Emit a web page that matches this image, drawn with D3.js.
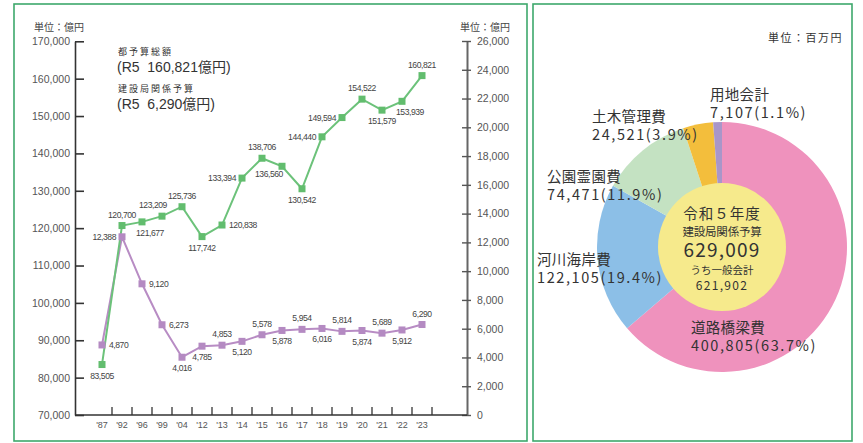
<!DOCTYPE html>
<html>
<head>
<meta charset="UTF-8">
<title>建設局関係予算</title>
<style>
    body { margin: 0; padding: 0; background: #fff; }
    svg { display: block; font-family: 'Liberation Sans', 'Noto Sans CJK JP', sans-serif; }
    .jp { font-family: 'Noto Sans CJK JP', sans-serif; }
    .pre { white-space: pre; }
</style>
</head>
<body>
<svg></svg>
<script src="https://d3js.org/d3.v7.min.js"></script>
<script>

// dimensions
let w = 863, h = 443;

// line chart data
let years = ["'87","'92","'96","'99","'04","'12","'13","'14","'15","'16","'17","'18","'19","'20","'21","'22","'23"];
let totalBudget = [83505,120700,121677,123209,125736,117742,120838,133394,138706,136560,130542,144440,149594,154522,151579,153939,160821];
let constBudget = [4870,12388,9120,6273,4016,4785,4853,5120,5578,5878,5954,6016,5814,5874,5689,5912,6290];
// where each value label sits relative to its point
let totalLabelAt = ["b","a","br","al","a","b","r","l","a","bl","b","l","l","a","b","br","a"];
let constLabelAt = ["r","l","r","r","b","b","a","b","a","b","a","b","a","b","a","b","a"];
let leftTicks = [70000,80000,90000,100000,110000,120000,130000,140000,150000,160000,170000];
let rightTicks = [0,2000,4000,6000,8000,10000,12000,14000,16000,18000,20000,22000,24000,26000];

// donut data
let sectors = ["道路橋梁費","河川海岸費","公園霊園費","土木管理費","用地会計"];
let sectorValues = [400805,122105,74471,24521,7107];
let sectorShares = ["63.7%","19.4%","11.9%","3.9%","1.1%"];
let sectorColors = ["#ef92bd","#8cbfe7","#c4e2c2","#f3be3c","#a996c9"];

let svg = d3.select("svg")
    .attr("width", w)
    .attr("height", h)
    .attr("viewBox", `0 0 ${w} ${h}`);

// panel frames
svg.append("rect").attr("x",14).attr("y",4).attr("width",513).attr("height",437)
    .attr("fill","none").attr("stroke","#3ea86c").attr("stroke-width",1.6);
svg.append("rect").attr("x",533).attr("y",4).attr("width",319).attr("height",437)
    .attr("fill","none").attr("stroke","#3ea86c").attr("stroke-width",1.6);

// ---------- line chart ----------
let x = d3.scaleBand().domain(years).range([92,432]);
let yL = d3.scaleLinear().domain([70000,170000]).range([415,41.3]);
let yR = d3.scaleLinear().domain([0,26000]).range([415,41]);

let leftAxis = svg.append("g")
    .attr("transform","translate(75,0)")
    .call(d3.axisLeft(yL).tickValues(leftTicks).tickSizeInner(-9).tickSizeOuter(0).tickPadding(5)
        .tickFormat(d3.format(",")));
leftAxis.select(".domain").attr("stroke","#333").attr("stroke-width",1.6);
leftAxis.selectAll(".tick line").attr("stroke","#333").attr("stroke-width",1.6);
leftAxis.selectAll("text").attr("fill","#555").attr("font-size",10.5);

let rightAxis = svg.append("g")
    .attr("transform","translate(467,0)")
    .call(d3.axisRight(yR).tickValues(rightTicks).tickSizeInner(4).tickSizeOuter(0).tickPadding(6)
        .tickFormat(d3.format(",")));
rightAxis.select(".domain").attr("stroke","#666").attr("stroke-width",2);
rightAxis.selectAll(".tick line").attr("x1",-5).attr("stroke","#555").attr("stroke-width",1.4);
rightAxis.selectAll("text").attr("fill","#555").attr("font-size",10.5);

// bottom axis
let bottom = svg.append("g");
bottom.append("line").attr("x1",75).attr("x2",467).attr("y1",415).attr("y2",415)
    .attr("stroke","#333").attr("stroke-width",1.6);
bottom.selectAll("line.tk")
    .data(years)
    .enter()
    .append("line")
    .attr("class","tk")
    .attr("x1",d => x(d) + x.bandwidth()).attr("x2",d => x(d) + x.bandwidth())
    .attr("y1",415).attr("y2",407)
    .attr("stroke","#333").attr("stroke-width",1.3);
bottom.selectAll("text")
    .data(years)
    .enter()
    .append("text")
    .attr("x",d => x(d) + x.bandwidth()/2)
    .attr("y",428)
    .attr("text-anchor","middle")
    .attr("font-size",9)
    .attr("fill","#555")
    .text(d => d);

// unit labels
svg.append("text").attr("class","jp").attr("x",34).attr("y",31).attr("font-size",10).attr("fill","#444").text("単位：億円");
svg.append("text").attr("class","jp").attr("x",460).attr("y",31).attr("font-size",10).attr("fill","#444").text("単位：億円");

// annotation
svg.append("text").attr("class","jp").attr("x",118).attr("y",55).attr("font-size",9).attr("letter-spacing",2).attr("fill","#333").text("都予算総額");
svg.append("text").attr("class","pre").attr("x",117).attr("y",72).attr("font-size",14).attr("fill","#333").text("(R5  160,821億円)");
svg.append("text").attr("class","jp").attr("x",118).attr("y",92).attr("font-size",9).attr("letter-spacing",2).attr("fill","#333").text("建設局関係予算");
svg.append("text").attr("class","pre").attr("x",117).attr("y",109).attr("font-size",14).attr("fill","#333").text("(R5  6,290億円)");

let cx = d => x(d) + x.bandwidth()/2;
let totalPts = years.map((d,i) => ({year:d, value:totalBudget[i], at:totalLabelAt[i], y:yL(totalBudget[i])}));
let constPts = years.map((d,i) => ({year:d, value:constBudget[i], at:constLabelAt[i], y:yR(constBudget[i])}));

let line = d3.line().x(d => cx(d.year)).y(d => d.y);

svg.append("path").datum(constPts).attr("d",line)
    .attr("fill","none").attr("stroke","#b88cc4").attr("stroke-width",2);
svg.append("path").datum(totalPts).attr("d",line)
    .attr("fill","none").attr("stroke","#6cc27a").attr("stroke-width",2);

let sq = 7;
svg.append("g").selectAll("rect")
    .data(totalPts)
    .enter()
    .append("rect")
    .attr("x",d => cx(d.year) - sq/2).attr("y",d => d.y - sq/2)
    .attr("width",sq).attr("height",sq)
    .attr("fill","#62bd6e");
svg.append("g").selectAll("rect")
    .data(constPts)
    .enter()
    .append("rect")
    .attr("x",d => cx(d.year) - sq/2).attr("y",d => d.y - sq/2)
    .attr("width",sq).attr("height",sq)
    .attr("fill","#b48ac2");

// value labels
function labelPlace(d) {
    let px = cx(d.year), py = d.y;
    switch (d.at) {
        case "a":  return {x:px, y:py-8, anchor:"middle"};
        case "al": return {x:px-9, y:py-8, anchor:"middle"};
        case "ar": return {x:px+6, y:py-8, anchor:"middle"};
        case "b":  return {x:px, y:py+14, anchor:"middle"};
        case "bl": return {x:px-13, y:py+11, anchor:"middle"};
        case "br": return {x:px+8, y:py+14, anchor:"middle"};
        case "l":  return {x:px-6, y:py+3, anchor:"end"};
        case "r":  return {x:px+7, y:py+3, anchor:"start"};
    }
}
[totalPts, constPts].forEach(pts => {
    svg.append("g").selectAll("text")
        .data(pts)
        .enter()
        .append("text")
        .attr("x",d => labelPlace(d).x)
        .attr("y",d => labelPlace(d).y)
        .attr("text-anchor",d => labelPlace(d).anchor)
        .attr("font-size",8.6)
        .attr("letter-spacing",-0.45)
        .attr("fill","#444")
        .text(d => d3.format(",")(d.value));
});

// ---------- donut ----------
let pcx = 722, pcy = 247;
let pie = d3.pie().sort(null).value(d => d.value);
let arc = d3.arc().innerRadius(0).outerRadius(125);
let slices = pie(sectors.map((s,i) => ({name:s, value:sectorValues[i], share:sectorShares[i], color:sectorColors[i]})));

let donut = svg.append("g").attr("transform",`translate(${pcx},${pcy})`);
donut.selectAll("path")
    .data(slices)
    .enter()
    .append("path")
    .attr("d",arc)
    .attr("fill",d => d.data.color);
donut.append("circle").attr("r",64).attr("fill","#f6ea8c");

let center = [
    {t:"令和５年度", y:-28, size:14.5, ls:1},
    {t:"建設局関係予算", y:-11, size:11.5, ls:-0.2},
    {t:"629,009", y:10, size:19, ls:1.2},
    {t:"うち一般会計", y:27, size:10.5, ls:0},
    {t:"621,902", y:43, size:12, ls:1.3}
];
donut.selectAll("text.c")
    .data(center)
    .enter()
    .append("text")
    .attr("class","jp c")
    .attr("y",d => d.y)
    .attr("text-anchor","middle")
    .attr("font-size",d => d.size)
    .attr("letter-spacing",d => d.ls)
    .attr("fill","#333")
    .text(d => d.t);

// slice labels (name on first line, value and share below)
let sliceLabelPos = [[691,333],[537,265],[547,182],[592,122],[710,100]];
slices.forEach((s,i) => {
    let g = svg.append("g").attr("class","jp").attr("fill","#333");
    g.append("text").attr("x",sliceLabelPos[i][0]).attr("y",sliceLabelPos[i][1])
        .attr("font-size",14.5).attr("letter-spacing",0.3).text(s.data.name);
    g.append("text").attr("x",sliceLabelPos[i][0]).attr("y",sliceLabelPos[i][1] + 18)
        .attr("font-size",14.5).attr("letter-spacing",1.6)
        .text(`${d3.format(",")(s.data.value)}(${s.data.share})`);
});

svg.append("text").attr("class","jp").attr("x",843).attr("y",42).attr("text-anchor","end")
    .attr("font-size",11).attr("letter-spacing",1.5).attr("fill","#333").text("単位：百万円");

</script>
</body>
</html>
